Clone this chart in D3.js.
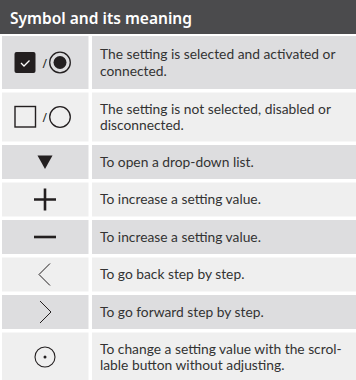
<!DOCTYPE html>
<html><head><meta charset="utf-8">
<script src="https://cdn.jsdelivr.net/npm/d3@7"></script>
<style>html,body{margin:0;padding:0;background:#fff;}svg{display:block;}</style>
</head><body>
<svg id="c" width="356" height="380"></svg>
<script>
const title = "Symbol and its meaning";
const symbols = ["checked", "unchecked", "dropdown", "plus", "minus", "back", "forward", "dial"];
const meanings = [
  ["The setting is selected and activated or", "connected."],
  ["The setting is not selected, disabled or", "disconnected."],
  ["To open a drop-down list."],
  ["To increase a setting value."],
  ["To increase a setting value."],
  ["To go back step by step."],
  ["To go forward step by step."],
  ["To change a setting value with the scrol-", "lable button without adjusting."]
];

const W = 356, H = 380;
const svg = d3.select("#c");
const FONT = "'Noto Sans', 'Open Sans', sans-serif";
const BODY = "Lato, 'Noto Sans', sans-serif";
const INK = "#231f20";

// header
svg.append("rect").attr("x",0).attr("y",0).attr("width",W).attr("height",34).attr("fill","#4b4b4d");
svg.append("text").attr("x",10).attr("y",23.5).attr("fill","#fff")
  .attr("font-family",FONT).attr("font-size",16.3).attr("font-weight",600)
  .attr("textLength",182).attr("lengthAdjust","spacingAndGlyphs").text(title);

// row layout from line counts
const gap = 3.5;
const heightFor = (i, n) => n > 1 ? (i === 0 ? 53 : 49) : 34;
let acc = 36;
const rows = symbols.map((s, i) => {
  const h = heightFor(i, meanings[i].length);
  const r = {sym: s, lines: meanings[i], y: acc, h: h, i: i};
  acc += h + gap;
  return r;
});

const x = d3.scaleOrdinal().domain(["sym","text"]).range([2, 92]);
const colW = {sym: 86.5, text: W - 92};
const fills = ["#dddddf", "#efefef"];

const g = svg.selectAll("g.row").data(rows).join("g").attr("class","row")
  .attr("transform", d => `translate(0,${d.y})`);

g.append("rect").attr("x", x("sym")).attr("y",0).attr("width", colW.sym).attr("height", d => d.h)
  .attr("fill", d => fills[d.i % 2]);
g.append("rect").attr("x", x("text")).attr("y",0).attr("width", colW.text).attr("height", d => d.h)
  .attr("fill", d => fills[d.i % 2]);

const FS = 13.8, lh = 16.6;
g.each(function(d){
  const sel = d3.select(this);
  const n = d.lines.length;
  d.lines.forEach((ln, k) => {
    sel.append("text").attr("font-family",BODY).attr("font-size",FS).attr("fill","#333")
      .attr("x", 100)
      .attr("y", d.h/2 + (k - (n-1)/2)*lh + 4.8).text(ln);
  });
  const cx = 45, cy = d.h/2;
  const ic = sel.append("g").attr("transform", `translate(${cx},${cy})`);
  switch(d.sym){
    case "checked":
      ic.append("rect").attr("x",-30.5).attr("y",-10.5).attr("width",21).attr("height",21).attr("rx",2).attr("fill",INK);
      ic.append("path").attr("d","M-24,0.5 L-21,3.5 L-15.5,-2").attr("fill","none").attr("stroke","#fff").attr("stroke-width",1.3);
      ic.append("text").attr("x",-2.5).attr("y",5).attr("font-family",FONT).attr("font-size",12).attr("fill",INK).text("/");
      ic.append("circle").attr("cx",15).attr("cy",0).attr("r",10.3).attr("fill","none").attr("stroke",INK).attr("stroke-width",1.3);
      ic.append("circle").attr("cx",15).attr("cy",0).attr("r",6.5).attr("fill",INK);
      break;
    case "unchecked":
      ic.append("rect").attr("x",-30).attr("y",-10.5).attr("width",20.5).attr("height",20.5).attr("fill","none").attr("stroke",INK).attr("stroke-width",1.4);
      ic.append("text").attr("x",-2.5).attr("y",5).attr("font-family",FONT).attr("font-size",12).attr("fill",INK).text("/");
      ic.append("circle").attr("cx",15).attr("cy",0).attr("r",10.3).attr("fill","none").attr("stroke",INK).attr("stroke-width",1.3);
      break;
    case "dropdown":
      ic.append("path").attr("d","M-7.5,-6.5 L7.5,-6.5 L0,7 Z").attr("fill",INK);
      break;
    case "plus":
      ic.append("path").attr("d","M-11,0 H11 M0,-11 V11").attr("stroke",INK).attr("stroke-width",2.6);
      break;
    case "minus":
      ic.append("path").attr("d","M-11,0 H11").attr("stroke",INK).attr("stroke-width",2.6);
      break;
    case "back":
      ic.append("path").attr("d","M5,-11 L-6,0 L5,11").attr("fill","none").attr("stroke",INK).attr("stroke-width",1);
      break;
    case "forward":
      ic.append("path").attr("d","M-5,-11 L6,0 L-5,11").attr("fill","none").attr("stroke",INK).attr("stroke-width",1);
      break;
    case "dial":
      ic.append("circle").attr("r",10).attr("fill","none").attr("stroke",INK).attr("stroke-width",1.1);
      ic.append("circle").attr("r",1.5).attr("fill",INK);
      break;
  }
});
</script>
</body></html>
